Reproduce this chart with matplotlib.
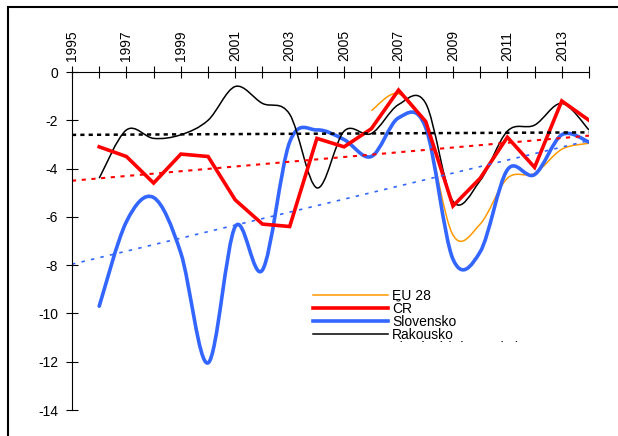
import numpy as np
import matplotlib
matplotlib.use('Agg')
import matplotlib.pyplot as plt
from matplotlib.path import Path
from matplotlib.patches import PathPatch, Rectangle
from matplotlib.lines import Line2D
from matplotlib.transforms import Bbox

plt.rcParams['font.family'] = ['Liberation Sans', 'DejaVu Sans']
plt.rcParams['axes.unicode_minus'] = False
plt.rcParams['lines.scale_dashes'] = False

# roky a saldo (% HDP)
years = list(range(1996, 2015))
eu_years = list(range(2006, 2015))
eu28 = [-1.6, -0.9, -2.4, -6.75, -6.3, -4.4, -4.2, -3.2, -2.95]
cr = [-3.1, -3.5, -4.6, -3.4, -3.5, -5.3, -6.3, -6.4, -2.75, -3.1,
      -2.35, -0.75, -2.05, -5.55, -4.4, -2.7, -3.95, -1.2, -2.0]
slovensko = [-9.7, -6.2, -5.2, -7.5, -12.05, -6.4, -8.2, -2.9, -2.4, -2.8,
             -3.5, -1.9, -2.3, -7.75, -7.45, -4.05, -4.25, -2.6, -2.9]
rakousko = [-4.4, -2.4, -2.75, -2.6, -2.0, -0.6, -1.3, -1.75, -4.8, -2.45,
            -2.55, -1.35, -1.3, -5.35, -4.5, -2.45, -2.2, -1.3, -2.4]

tick_years = list(range(1995, 2015))
tick_labels = [str(y) if y % 2 == 1 else '' for y in tick_years]
y_ticks = [0, -2, -4, -6, -8, -10, -12, -14]
labels = ['EU 28', 'ČR', 'Slovensko', 'Rakousko', 'Lineární (Slovensko)']


def smooth_path(x, y):
    # vyhlazena cara jako v Excelu (Bezier, Catmull-Rom)
    x = np.asarray(x, float)
    y = np.asarray(y, float)
    pts = np.column_stack([x, y])
    verts = [pts[0]]
    codes = [Path.MOVETO]
    n = len(pts)
    for i in range(n - 1):
        p0 = pts[i - 1] if i > 0 else pts[i]
        p1 = pts[i]
        p2 = pts[i + 1]
        p3 = pts[i + 2] if i + 2 < n else pts[i + 1]
        c1 = p1 + (p2 - p0) / 6.0
        c2 = p2 - (p3 - p1) / 6.0
        verts += [c1, c2, p2]
        codes += [Path.CURVE4] * 3
    return Path(verts, codes)


fig = plt.figure(figsize=(6.18, 4.36), dpi=100)
ax = fig.add_axes([72 / 618, 1 - 410 / 436, (589 - 72) / 618, (410 - 72) / 436])

ax.add_patch(PathPatch(smooth_path(eu_years, eu28), fc='none', ec='#FF9900', lw=1.1))
ax.plot(years, cr, color='#FF0000', lw=2.6, solid_joinstyle='miter')
ax.add_patch(PathPatch(smooth_path(years, slovensko), fc='none', ec='#3366FF', lw=2.6,
                       capstyle='round', joinstyle='round'))
ax.add_patch(PathPatch(smooth_path(years, rakousko), fc='none', ec='black', lw=1.1))

# linearni trendy
trend_x = np.array([1995, 2014])
for vals, col, lw, dash in [(cr, '#FF0000', 1.5, (3, 4)),
                            (slovensko, '#3366FF', 1.2, (2.5, 4.5)),
                            (rakousko, 'black', 1.8, (3, 3))]:
    k, q = np.polyfit(years, vals, 1)
    ax.plot(trend_x, k * trend_x + q, color=col, lw=lw, dashes=dash)

ax.set_xlim(1995, 2014)
ax.set_ylim(-14, 0)
ax.xaxis.tick_top()
ax.set_xticks(tick_years)
ax.set_xticklabels(tick_labels, rotation=90)
ax.set_yticks(y_ticks)
ax.tick_params(axis='x', direction='inout', length=8, width=0.8, pad=4, labelsize=10)
ax.tick_params(axis='y', direction='inout', length=8, width=0.8, pad=6, labelsize=10)
ax.spines['bottom'].set_visible(False)
ax.spines['right'].set_visible(False)
ax.spines['top'].set_linewidth(0.8)
ax.spines['left'].set_linewidth(0.8)

handles = [Line2D([], [], color='#FF9900', lw=1.1),
           Line2D([], [], color='#FF0000', lw=2.6),
           Line2D([], [], color='#3366FF', lw=2.6),
           Line2D([], [], color='black', lw=1.1),
           Line2D([], [], color='#3366FF', lw=1.2, dashes=(2.5, 4.5))]
leg = ax.legend(handles, labels, loc='upper left',
                bbox_to_anchor=(313 / 618, 1 - 289 / 436), bbox_transform=fig.transFigure,
                frameon=False, borderpad=0, borderaxespad=0, handlelength=5.4,
                handletextpad=0.3, labelspacing=-0.07, fontsize=10)
clip = Bbox.from_extents(0, 436 - 342, 618, 436)
for t in leg.get_texts():
    t.set_clip_box(clip)
    t.set_clip_on(True)
for h in leg.get_lines():
    h.set_clip_box(clip)
    h.set_clip_on(True)

fig.add_artist(Rectangle((8 / 618, -0.1), 1.2, 1 - 7 / 436 + 0.1, transform=fig.transFigure,
                         fill=False, ec='black', lw=1.5))

fig.savefig('out.png', dpi=100)
